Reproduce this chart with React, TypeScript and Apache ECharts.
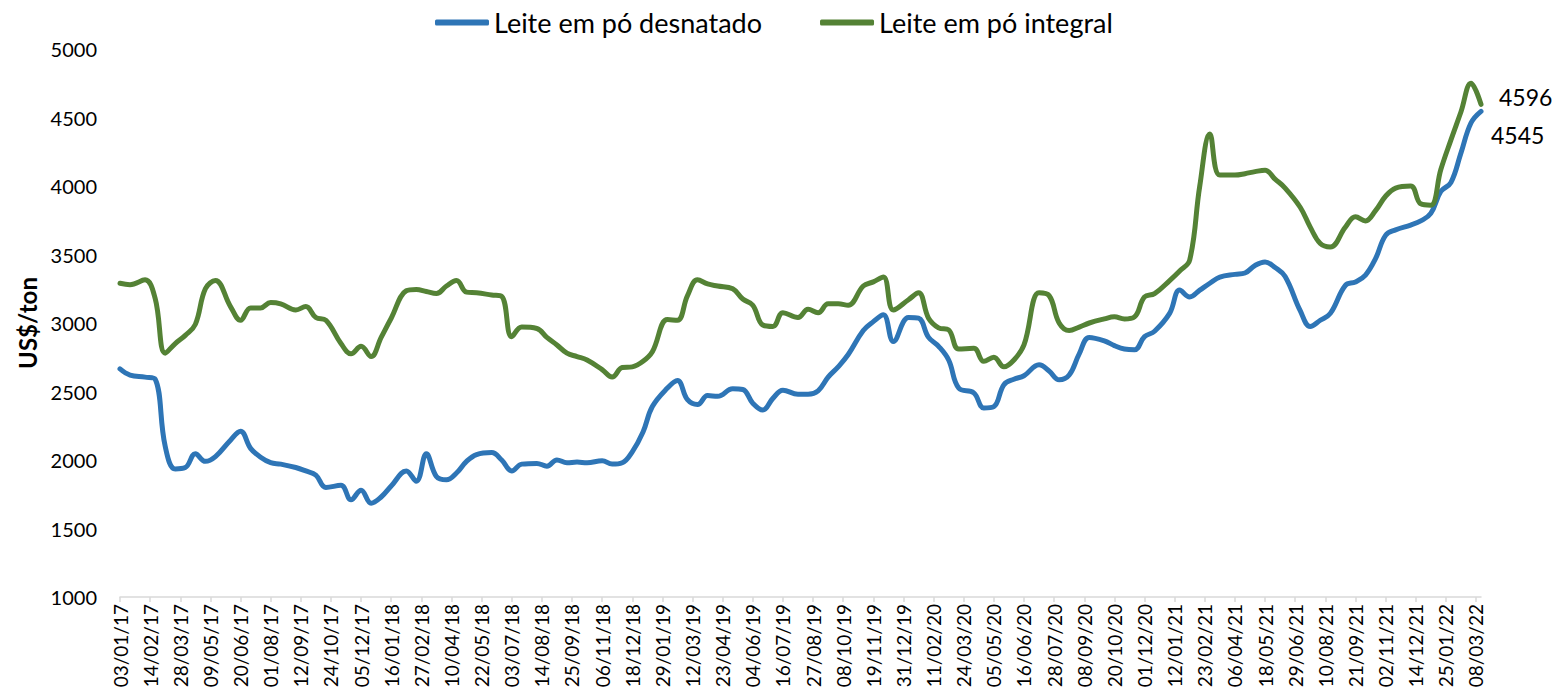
import React, { useEffect, useRef } from "react";
import * as echarts from "echarts";

// GDT auction dates (first and third Tuesday of each month)
const dates: string[] = [
  "2017-01-03", "2017-01-17", "2017-02-07", "2017-02-21", "2017-03-07", "2017-03-21", "2017-04-04", "2017-04-18",
  "2017-05-02", "2017-05-16", "2017-06-06", "2017-06-20", "2017-07-04", "2017-07-18", "2017-08-01", "2017-08-15",
  "2017-09-05", "2017-09-19", "2017-10-03", "2017-10-17", "2017-11-07", "2017-11-21", "2017-12-05", "2017-12-19",
  "2018-01-02", "2018-01-16", "2018-02-06", "2018-02-20", "2018-03-06", "2018-03-20", "2018-04-03", "2018-04-17",
  "2018-05-01", "2018-05-15", "2018-06-05", "2018-06-19", "2018-07-03", "2018-07-17", "2018-08-07", "2018-08-21",
  "2018-09-04", "2018-09-18", "2018-10-02", "2018-10-16", "2018-11-06", "2018-11-20", "2018-12-04", "2018-12-18",
  "2019-01-02", "2019-01-15", "2019-02-05", "2019-02-19", "2019-03-05", "2019-03-19", "2019-04-02", "2019-04-16",
  "2019-05-07", "2019-05-21", "2019-06-04", "2019-06-18", "2019-07-02", "2019-07-16", "2019-08-06", "2019-08-20",
  "2019-09-03", "2019-09-17", "2019-10-01", "2019-10-15", "2019-11-05", "2019-11-19", "2019-12-03", "2019-12-17",
  "2020-01-07", "2020-01-21", "2020-02-04", "2020-02-18", "2020-03-03", "2020-03-17", "2020-04-07", "2020-04-21",
  "2020-05-05", "2020-05-19", "2020-06-02", "2020-06-16", "2020-07-07", "2020-07-21", "2020-08-04", "2020-08-18",
  "2020-09-01", "2020-09-15", "2020-10-06", "2020-10-20", "2020-11-03", "2020-11-17", "2020-12-01", "2020-12-15",
  "2021-01-05", "2021-01-19", "2021-02-02", "2021-02-16", "2021-03-02", "2021-03-16", "2021-04-06", "2021-04-20",
  "2021-05-04", "2021-05-18", "2021-06-01", "2021-06-15", "2021-07-06", "2021-07-20", "2021-08-03", "2021-08-17",
  "2021-09-07", "2021-09-21", "2021-10-05", "2021-10-19", "2021-11-02", "2021-11-16", "2021-12-07", "2021-12-21",
  "2022-01-04", "2022-01-18", "2022-02-01", "2022-02-15", "2022-03-01", "2022-03-15",
];

// Leite em pó desnatado (US$/ton)
const desnatado: number[] = [
  2665, 2620, 2605, 2590, 2100, 1935, 1945, 2045, 1990, 2025, 2145, 2210, 2085, 2020, 1980, 1970,
  1945, 1920, 1890, 1800, 1815, 1710, 1780, 1685,
  1730, 1810, 1920, 1845, 2045, 1880, 1855, 1905, 1990, 2040, 2055, 2000, 1920, 1970, 1975, 1955,
  2000, 1980, 1985, 1980, 1995, 1970, 1980, 2060,
  2205, 2390, 2525, 2580, 2440, 2405, 2470, 2465, 2520, 2515, 2415, 2365, 2450, 2510, 2480, 2480,
  2505, 2605, 2680, 2770, 2945, 3010, 3060, 2865,
  3040, 3035, 2895, 2830, 2730, 2525, 2490, 2380, 2390, 2550, 2590, 2615, 2695, 2650, 2585, 2620,
  2775, 2895, 2870, 2835, 2810, 2805, 2900, 2940,
  3070, 3240, 3190, 3240, 3290, 3335, 3355, 3365, 3420, 3445, 3405, 3340, 3090, 2975, 3020, 3070,
  3275, 3300, 3350, 3470, 3640, 3680, 3715, 3745,
  3800, 3960, 4025, 4240, 4460, 4545,
];

// Leite em pó integral (US$/ton)
const integral: number[] = [
  3290, 3280, 3315, 3180, 2780, 2850, 2910, 2990, 3250, 3310, 3120, 3020, 3110, 3110, 3150, 3140,
  3095, 3120, 3040, 3020, 2850, 2775, 2830, 2755,
  2895, 3035, 3235, 3245, 3230, 3215, 3270, 3310, 3225, 3220, 3205, 3195, 2900, 2970, 2960, 2895,
  2840, 2780, 2755, 2730, 2660, 2605, 2675, 2680,
  2720, 2790, 3025, 3020, 3200, 3315, 3285, 3270, 3250, 3175, 3130, 2985, 2975, 3075, 3040, 3100,
  3075, 3140, 3140, 3130, 3270, 3300, 3335, 3095,
  3170, 3220, 3035, 2965, 2950, 2810, 2815, 2720, 2750, 2680, 2730, 2840, 3220, 3200, 3000, 2945,
  2970, 3000, 3030, 3045, 3030, 3045, 3190, 3215,
  3310, 3380, 3460, 4000, 4380, 4080, 4080, 4090, 4105, 4115, 4050, 3985, 3845, 3700, 3580, 3555,
  3700, 3775, 3745, 3820, 3925, 3985, 4000, 3870,
  3860, 4120, 4335, 4540, 4750, 4596,
];

const tickLabels: string[] = [
  "03/01/17", "14/02/17", "28/03/17", "09/05/17", "20/06/17", "01/08/17", "12/09/17", "24/10/17",
  "05/12/17", "16/01/18", "27/02/18", "10/04/18", "22/05/18", "03/07/18", "14/08/18", "25/09/18",
  "06/11/18", "18/12/18", "29/01/19", "12/03/19", "23/04/19", "04/06/19", "16/07/19", "27/08/19",
  "08/10/19", "19/11/19", "31/12/19", "11/02/20", "24/03/20", "05/05/20", "16/06/20", "28/07/20",
  "08/09/20", "20/10/20", "01/12/20", "12/01/21", "23/02/21", "06/04/21", "18/05/21", "29/06/21",
  "10/08/21", "21/09/21", "02/11/21", "14/12/21", "25/01/22", "08/03/22",
];

const seriesNames = ["Leite em pó desnatado", "Leite em pó integral"];
const colors = ["#2E75B6", "#548235"];

const DAY = 86400000;
const T0 = Date.UTC(2017, 0, 3);
const isoToDay = (s: string) => {
  const [y, m, d] = s.split("-").map(Number);
  return Math.round((Date.UTC(y, m - 1, d) - T0) / DAY);
};
const tickToDay = (s: string) => {
  const [d, m, y] = s.split("/").map(Number);
  return Math.round((Date.UTC(2000 + y, m - 1, d) - T0) / DAY);
};
const dayToLabel = (v: number) => {
  const dt = new Date(T0 + Math.round(v) * DAY);
  const dd = String(dt.getUTCDate()).padStart(2, "0");
  const mm = String(dt.getUTCMonth() + 1).padStart(2, "0");
  const yy = String(dt.getUTCFullYear() % 100).padStart(2, "0");
  return `${dd}/${mm}/${yy}`;
};

const FONT = "Lato";

export default function App() {
  const ref = useRef<HTMLDivElement>(null);
  useEffect(() => {
    if (!ref.current) return;
    const chart = echarts.init(ref.current, undefined, { renderer: "svg" });
    const days = dates.map(isoToDay);
    const tickDays = tickLabels.map(tickToDay);
    const lastDay = days[days.length - 1];
    const mk = (vals: number[]) => vals.map((v, i) => [days[i], v]);

    chart.setOption({
      animation: false,
      backgroundColor: "#ffffff",
      textStyle: { fontFamily: FONT },
      legend: {
        left: 430,
        top: 4,
        itemWidth: 54,
        itemHeight: 6,
        itemGap: 58,
        icon: "roundRect",
        textStyle: { fontSize: 27, color: "#000", fontFamily: FONT },
        data: seriesNames,
      },
      grid: { left: 120, right: 81, top: 49, bottom: 97, containLabel: false },
      xAxis: {
        type: "value",
        min: 0,
        max: lastDay,
        splitLine: { show: false },
        axisLine: { show: true, lineStyle: { color: "#d9d9d9", width: 1.5 } },
        axisTick: { show: true, length: 5, lineStyle: { color: "#d9d9d9", width: 1.5 }, customValues: tickDays },
        axisLabel: {
          rotate: 90,
          margin: 7,
          fontSize: 19,
          color: "#000",
          fontFamily: FONT,
          customValues: tickDays,
          formatter: (v: number) => dayToLabel(v),
        },
      },
      yAxis: {
        type: "value",
        min: 1000,
        max: 5000,
        interval: 500,
        splitLine: { show: false },
        axisLine: { show: false },
        axisTick: { show: false },
        axisLabel: {
          margin: 23,
          fontSize: 20,
          color: "#000",
          fontFamily: FONT,
          formatter: (v: number) => String(v),
        },
        name: "US$/ton",
        nameLocation: "middle",
        nameGap: 80,
        nameTextStyle: { fontSize: 24, fontWeight: "bold", color: "#000", fontFamily: FONT },
      },
      series: [
        {
          name: seriesNames[0],
          type: "line",
          data: mk(desnatado),
          showSymbol: false,
          smooth: 0.4,
          lineStyle: { width: 5, color: colors[0], cap: "round", join: "round" },
          itemStyle: { color: colors[0] },
          endLabel: {
            show: true,
            formatter: () => String(desnatado[desnatado.length - 1]),
            fontSize: 23,
            color: "#000",
            fontFamily: FONT,
            offset: [2, 24],
          },
        },
        {
          name: seriesNames[1],
          type: "line",
          data: mk(integral),
          showSymbol: false,
          smooth: 0.4,
          lineStyle: { width: 5, color: colors[1], cap: "round", join: "round" },
          itemStyle: { color: colors[1] },
          endLabel: {
            show: true,
            formatter: () => String(integral[integral.length - 1]),
            fontSize: 23,
            color: "#000",
            fontFamily: FONT,
            offset: [10, -7],
          },
        },
      ],
    });
    return () => chart.dispose();
  }, []);
  return (
    <div
      ref={ref}
      style={{ position: "fixed", left: 0, top: 0, width: 1562, height: 694, background: "#fff" }}
    />
  );
}
